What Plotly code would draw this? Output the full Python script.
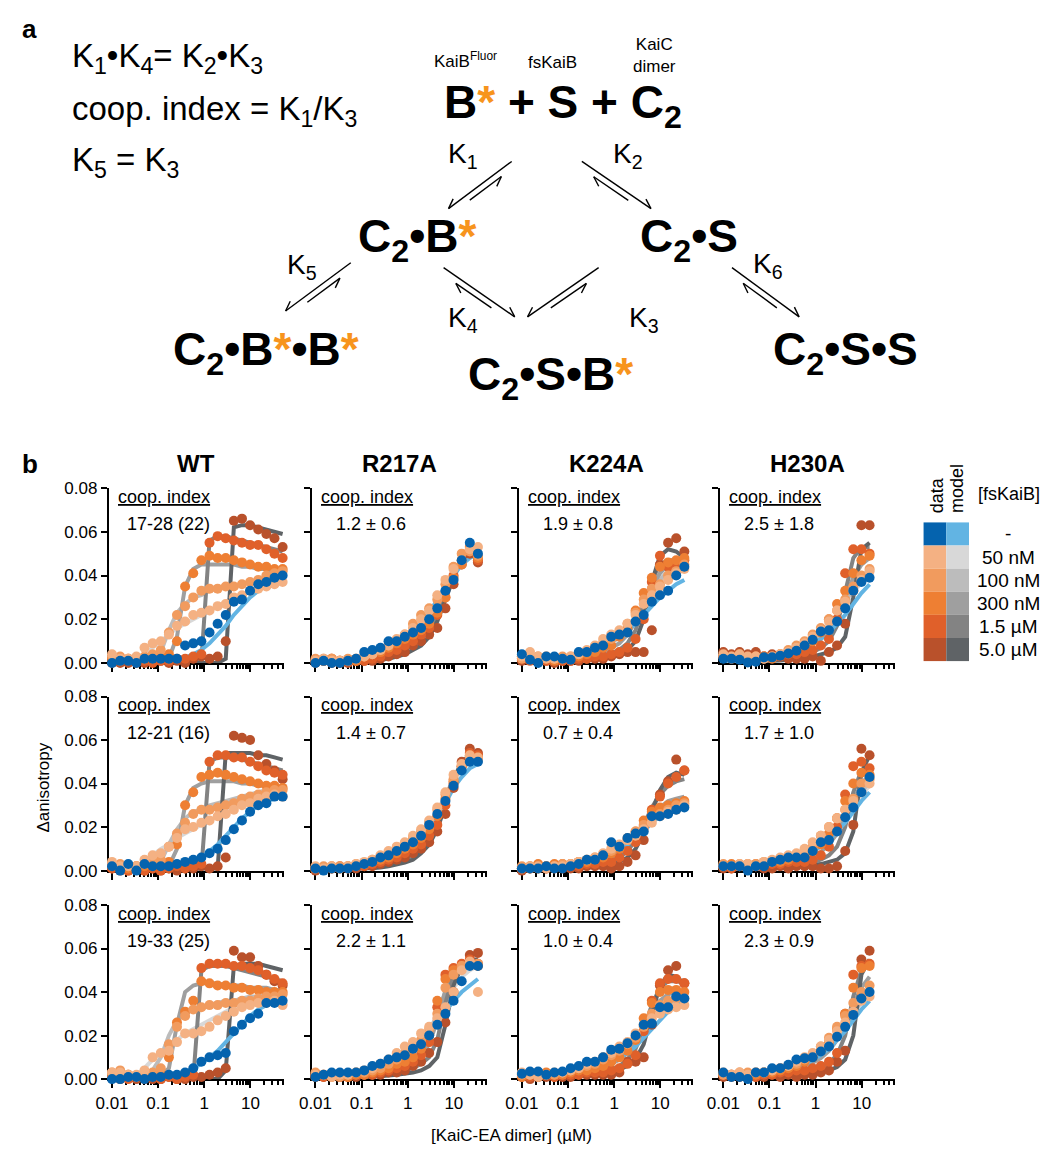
import math
import plotly.graph_objects as go

W, H = 1048, 1155
FONT = "Liberation Sans, Arial, sans-serif"

# ---------------- x concentrations (µM) ----------------
X_WT = [0.01, 0.015, 0.0225, 0.0338, 0.0506, 0.0759, 0.114, 0.171, 0.256, 0.384, 0.577,
        0.865, 1.30, 1.95, 2.92, 4.38, 6.57, 9.85, 14.8, 22.2, 33.3, 50.0]
X_R217A = [0.01, 0.015, 0.0225, 0.0338, 0.0506, 0.0759, 0.114, 0.171, 0.256, 0.384, 0.577,
           0.865, 1.30, 1.95, 2.92, 4.38, 6.57, 9.85, 14.8, 22.2, 33.3]
X_K224A = [0.01, 0.015, 0.0225, 0.0338, 0.0506, 0.0759, 0.114, 0.171, 0.256, 0.384, 0.577,
           0.865, 1.30, 1.95, 2.92, 4.38, 6.57, 9.85, 14.8, 22.2, 33.3]
X_H230A = [0.01, 0.015, 0.0225, 0.0338, 0.0506, 0.0759, 0.114, 0.171, 0.256, 0.384, 0.577,
           0.865, 1.30, 1.95, 2.92, 4.38, 6.57, 9.85, 14.8]

# ---------------- WT ----------------
wt1_d0 = [.000,.001,.001,.000,.002,.002,.002,.002,.002,.008,.009,.010,.014,.018,.022,.028,.029,.033,.036,.037,.039,.040]
wt1_d1 = [.004,.002,.002,.003,.007,.009,.010,.013,.017,.019,.022,.023,.024,.026,.027,.030,.031,.033,.034,.035,.036,.037]
wt1_d2 = [.003,.003,.002,.002,.003,.004,.006,.014,.022,.026,.030,.033,.034,.034,.035,.035,.036,.037,.038,.040,.041,.042]
wt1_d3 = [.002,.001,.002,.001,.002,.002,.003,.004,.010,.035,.041,.047,.049,.048,.048,.047,.046,.045,.044,.044,.043,.043]
wt1_d4 = [.002,.001,.001,.000,.001,.000,.001,.001,.002,.002,.003,.004,.055,.058,.057,.056,.055,.054,.054,.052,.050,.048]
wt1_d5 = [.000,.000,.000,.001,.000,.002,.001,.000,.001,.000,.002,.003,.002,.003,.010,.065,.066,.063,.061,.059,.057,.053]
wt1_m0 = [0,0,0,0,0,.0003,.0005,.001,.0015,.0025,.004,.006,.009,.013,.017,.022,.026,.030,.033,.036,.038,.039]
wt1_m1 = [0,0,0,.001,.004,.007,.010,.013,.016,.018,.020,.022,.024,.026,.028,.030,.031,.033,.034,.035,.036,.037]
wt1_m2 = [0,0,0,0,0,.001,.005,.015,.023,.027,.030,.031,.033,.034,.035,.035,.036,.037,.038,.039,.040,.041]
wt1_m3 = [0,0,0,0,0,0,0,.002,.012,.035,.043,.045,.045,.045,.045,.045,.044,.044,.043,.043,.042,.042]
wt1_m4 = [0,0,0,0,0,0,0,0,0,0,0,.001,.056,.058,.058,.057,.056,.055,.054,.053,.052,.051]
wt1_m5 = [0,0,0,0,0,0,0,0,0,0,0,0,0,0,.002,.062,.063,.063,.062,.061,.060,.059]

wt2_d0 = [.002,.000,.003,.000,.003,.002,.002,.002,.003,.004,.005,.006,.008,.010,.014,.019,.023,.027,.030,.031,.034,.034]
wt2_d1 = [.004,.002,.002,.002,.005,.007,.008,.011,.015,.019,.020,.022,.023,.025,.026,.028,.030,.031,.033,.034,.035,.034]
wt2_d2 = [.003,.003,.002,.002,.003,.004,.005,.011,.017,.022,.026,.028,.028,.029,.030,.031,.033,.034,.035,.036,.037,.037]
wt2_d3 = [.002,.002,.001,.002,.002,.002,.003,.004,.012,.030,.036,.043,.044,.045,.044,.043,.042,.041,.040,.039,.039,.038]
wt2_d4 = [.001,.001,.000,.001,.000,.001,.000,.001,.002,.001,.002,.003,.050,.053,.053,.052,.052,.050,.048,.046,.045,.044]
wt2_d5 = [.001,.000,.000,.001,.000,.001,.000,.001,.000,.001,.001,.002,.001,.002,.006,.062,.061,.060,.053,.049,.046,.042]
wt2_m0 = [0,0,0,0,0,.0003,.0005,.001,.0015,.0025,.004,.006,.009,.012,.016,.020,.024,.027,.030,.032,.033,.034]
wt2_m1 = [0,0,0,.001,.004,.007,.010,.012,.015,.017,.019,.021,.023,.025,.027,.029,.031,.033,.034,.035,.036,.037]
wt2_m2 = [0,0,0,0,0,.001,.004,.012,.019,.024,.027,.028,.030,.031,.032,.033,.034,.035,.036,.037,.038,.038]
wt2_m3 = [0,0,0,0,0,0,0,.002,.010,.030,.038,.040,.041,.041,.041,.041,.040,.040,.039,.039,.038,.038]
wt2_m4 = [0,0,0,0,0,0,0,0,0,0,0,.001,.050,.052,.052,.052,.051,.050,.049,.048,.047,.046]
wt2_m5 = [0,0,0,0,0,0,0,0,0,0,0,0,0,.001,.054,.054,.054,.054,.053,.053,.052,.051]

wt3_d0 = [.000,.000,.001,.001,.000,.001,.001,.002,.002,.003,.005,.008,.010,.011,.012,.022,.025,.028,.030,.035,.035,.036]
wt3_d1 = [.003,.003,.002,.002,.004,.010,.012,.013,.017,.021,.021,.022,.024,.027,.029,.031,.033,.034,.035,.035,.036,.034]
wt3_d2 = [.003,.004,.002,.001,.002,.003,.005,.016,.024,.029,.032,.033,.034,.034,.035,.035,.036,.036,.037,.038,.038,.039]
wt3_d3 = [.002,.001,.002,.001,.002,.002,.003,.010,.026,.031,.036,.045,.044,.043,.043,.042,.042,.041,.041,.040,.040,.040]
wt3_d4 = [.001,.001,.000,.001,.000,.001,.000,.001,.000,.001,.002,.051,.053,.053,.053,.052,.052,.051,.050,.048,.046,.044]
wt3_d5 = [.001,.000,.001,.000,.001,.000,.000,.001,.000,.000,.001,.001,.002,.003,.005,.059,.056,.056,.052,.048,.045,.043]
wt3_m0 = [0,0,0,0,0,0,.0005,.001,.002,.003,.005,.007,.010,.013,.017,.021,.025,.029,.032,.034,.035,.036]
wt3_m1 = [0,0,0,.002,.005,.009,.012,.015,.018,.021,.023,.025,.027,.029,.031,.033,.034,.035,.036,.037,.038,.038]
wt3_m2 = [0,0,0,0,.001,.004,.010,.020,.027,.030,.032,.033,.034,.035,.036,.036,.037,.038,.038,.039,.039,.040]
wt3_m3 = [0,0,0,0,0,0,.001,.005,.025,.040,.043,.044,.044,.044,.043,.043,.043,.042,.042,.042,.041,.041]
wt3_m4 = [0,0,0,0,0,0,0,0,0,0,0,.050,.052,.052,.052,.051,.050,.049,.048,.047,.046,.045]
wt3_m5 = [0,0,0,0,0,0,0,0,0,0,0,0,0,0,.004,.052,.053,.053,.053,.052,.051,.050]

# ---------------- R217A ----------------
r1_d0 = [.000,.001,.000,.000,.001,.002,.005,.006,.007,.010,.010,.012,.014,.016,.020,.025,.033,.038,.047,.055,.050]
r1_d1 = [.001,.002,.001,.001,.001,.002,.003,.004,.006,.008,.011,.013,.016,.020,.024,.031,.038,.043,.047,.052,.053]
r1_d2 = [.002,.001,.002,.001,.002,.002,.003,.004,.006,.008,.010,.013,.018,.022,.025,.029,.036,.044,.050,.051,.049]
r1_d3 = [.001,.002,.002,.001,.001,.001,.003,.004,.005,.007,.009,.011,.013,.015,.018,.023,.030,.039,.045,.053,.048]
r1_d4 = [.001,.001,.002,.000,.001,.001,.001,.002,.003,.005,.006,.008,.010,.013,.016,.022,.030,.040,.047,.052,.047]
r1_d5 = [.000,.001,.000,.001,.000,.001,.001,.001,.002,.003,.004,.005,.008,.010,.013,.016,.025,.036,.045,.050,.046]
r1_m0 = [0,.0002,.0005,.001,.0015,.002,.003,.004,.005,.007,.009,.011,.014,.018,.023,.029,.035,.040,.045,.048,.050]
r1_m1 = [0,.0002,.0004,.0008,.001,.0015,.002,.003,.004,.006,.008,.010,.013,.017,.022,.028,.035,.041,.046,.050,.052]
r1_m2 = [0,0,.0003,.0006,.001,.0013,.002,.0027,.0037,.005,.007,.009,.012,.016,.021,.027,.034,.041,.046,.050,.052]
r1_m3 = [0,0,.0002,.0005,.0008,.001,.0015,.002,.003,.004,.005,.007,.010,.013,.018,.025,.033,.040,.046,.050,.052]
r1_m4 = [0,0,0,.0003,.0005,.0008,.001,.0015,.002,.003,.004,.006,.008,.011,.015,.022,.031,.040,.047,.051,.053]
r1_m5 = [0,0,0,.0002,.0004,.0006,.0008,.001,.0015,.002,.003,.004,.006,.008,.012,.019,.029,.039,.047,.051,.053]

r2_d0 = [.001,.000,.001,.001,.001,.002,.003,.004,.006,.007,.009,.011,.013,.016,.021,.026,.032,.039,.046,.050,.050]
r2_d1 = [.002,.001,.002,.001,.002,.003,.004,.005,.007,.009,.011,.013,.016,.019,.023,.029,.036,.044,.049,.053,.052]
r2_d2 = [.001,.002,.001,.002,.002,.003,.003,.005,.006,.008,.010,.012,.015,.018,.022,.028,.035,.042,.048,.052,.051]
r2_d3 = [.001,.001,.002,.001,.002,.002,.003,.004,.005,.006,.008,.010,.012,.015,.019,.025,.033,.041,.048,.053,.052]
r2_d4 = [.001,.001,.001,.002,.001,.002,.002,.003,.004,.005,.006,.008,.010,.012,.016,.021,.030,.040,.048,.054,.053]
r2_d5 = [.000,.001,.001,.001,.001,.001,.002,.002,.003,.004,.005,.006,.008,.010,.013,.018,.026,.038,.050,.056,.054]
r2_m0 = [0,.0002,.0004,.0007,.001,.0015,.002,.003,.004,.005,.007,.009,.012,.015,.020,.025,.031,.038,.043,.047,.049]
r2_m1 = [0,.0002,.0004,.0007,.001,.0014,.002,.003,.004,.005,.007,.009,.012,.016,.021,.027,.034,.041,.046,.050,.051]
r2_m2 = [0,.0002,.0003,.0006,.0009,.0012,.0017,.0024,.0033,.0045,.006,.008,.011,.015,.020,.027,.035,.042,.047,.050,.052]
r2_m3 = [0,0,.0002,.0004,.0007,.001,.0014,.002,.0027,.0037,.005,.007,.009,.013,.018,.025,.034,.042,.048,.051,.053]
r2_m4 = [0,0,0,.0003,.0005,.0007,.001,.0014,.002,.0027,.0037,.005,.007,.010,.015,.022,.032,.042,.049,.052,.054]
r2_m5 = [0,0,0,.0002,.0003,.0005,.0007,.001,.0014,.002,.0027,.0037,.005,.008,.012,.019,.030,.042,.050,.053,.055]

r3_d0 = [.001,.002,.003,.003,.003,.003,.004,.006,.007,.009,.010,.011,.014,.016,.020,.025,.030,.036,.045,.052,.052]
r3_d1 = [.002,.002,.001,.002,.002,.003,.004,.005,.007,.009,.012,.015,.017,.021,.024,.028,.033,.040,.050,.054,.040]
r3_d2 = [.003,.002,.002,.001,.002,.003,.003,.004,.005,.007,.009,.012,.014,.018,.023,.030,.042,.048,.052,.053,.053]
r3_d3 = [.001,.002,.001,.002,.001,.002,.002,.003,.004,.005,.007,.008,.010,.014,.020,.036,.046,.050,.052,.053,.052]
r3_d4 = [.002,.001,.002,.001,.001,.002,.002,.002,.003,.004,.005,.006,.008,.011,.017,.033,.048,.051,.053,.055,.053]
r3_d5 = [.001,.001,.002,.001,.001,.001,.002,.002,.002,.003,.003,.004,.006,.008,.012,.017,.026,.040,.052,.057,.058]
r3_m0 = [.0005,.001,.0015,.002,.0025,.003,.004,.005,.006,.008,.010,.012,.015,.018,.022,.026,.031,.036,.040,.043,.046]
r3_m1 = [.0002,.0005,.001,.0015,.002,.0025,.003,.004,.005,.007,.009,.011,.014,.018,.023,.029,.036,.042,.047,.050,.052]
r3_m2 = [0,.0003,.0006,.001,.0013,.0017,.002,.003,.004,.005,.007,.009,.011,.015,.021,.030,.040,.047,.051,.052,.053]
r3_m3 = [0,.0002,.0004,.0007,.001,.0013,.0017,.002,.003,.004,.005,.006,.008,.011,.016,.027,.041,.049,.052,.053,.053]
r3_m4 = [0,0,.0002,.0004,.0006,.0008,.001,.0013,.0017,.002,.003,.004,.005,.007,.010,.018,.035,.048,.053,.054,.054]
r3_m5 = [0,0,0,.0002,.0003,.0005,.0007,.001,.0013,.0017,.002,.0025,.003,.004,.006,.010,.025,.043,.052,.055,.055]

# ---------------- K224A ----------------
k1_d0 = [.004,.0015,.000,.003,.003,.002,.0015,.005,.005,.007,.008,.012,.013,.014,.019,.022,.028,.031,.033,.040,.044]
k1_d1 = [.003,.005,.003,.002,.002,.002,.003,.004,.006,.008,.011,.013,.015,.018,.022,.027,.031,.035,.038,.041,.043]
k1_d2 = [.002,.003,.002,.003,.002,.003,.003,.004,.005,.007,.009,.011,.014,.018,.023,.029,.034,.036,.040,.042,.045]
k1_d3 = [.003,.002,.003,.002,.001,.002,.002,.003,.004,.005,.007,.008,.012,.016,.024,.032,.039,.044,.046,.047,.048]
k1_d4 = [.002,.001,.002,.001,.002,.001,.001,.002,.002,.003,.003,.004,.005,.007,.011,.020,.037,.049,.044,.045,.047]
k1_d5 = [.001,.002,.001,.001,.000,.001,.001,.001,.002,.002,.002,.003,.004,.005,.005,.005,.015,.045,.055,.057,.051]
k1_m0 = [.0005,.001,.0013,.0017,.002,.0025,.003,.004,.005,.006,.008,.010,.012,.015,.018,.022,.026,.030,.033,.036,.038]
k1_m1 = [.001,.0013,.0017,.002,.0025,.003,.0035,.0045,.0055,.007,.009,.011,.014,.017,.021,.026,.031,.036,.040,.043,.045]
k1_m2 = [.0005,.0008,.001,.0013,.0017,.002,.0025,.003,.004,.005,.007,.009,.012,.016,.021,.027,.033,.038,.042,.044,.046]
k1_m3 = [.0003,.0005,.0007,.001,.0013,.0016,.002,.0025,.003,.004,.005,.007,.009,.013,.019,.027,.035,.041,.045,.047,.047]
k1_m4 = [0,.0002,.0004,.0006,.0008,.001,.0013,.0017,.002,.0027,.0035,.0045,.006,.009,.015,.026,.038,.045,.047,.047,.047]
k1_m5 = [0,0,.0002,.0003,.0005,.0007,.001,.0013,.0017,.002,.0027,.0035,.0045,.006,.010,.020,.037,.049,.052,.051,.048]

k2_d0 = [.001,.001,.001,.002,.001,.001,.002,.003,.005,.005,.007,.013,.011,.015,.017,.018,.025,.025,.026,.028,.029]
k2_d1 = [.001,.002,.002,.001,.002,.002,.003,.004,.005,.006,.008,.010,.012,.014,.016,.019,.022,.025,.027,.028,.030]
k2_d2 = [.002,.001,.001,.002,.002,.003,.003,.004,.005,.006,.007,.009,.011,.015,.018,.021,.024,.026,.028,.030,.031]
k2_d3 = [.001,.002,.003,.002,.003,.003,.003,.004,.004,.005,.006,.008,.010,.014,.018,.023,.027,.029,.030,.031,.032]
k2_d4 = [.001,.001,.002,.001,.002,.002,.002,.002,.003,.003,.004,.004,.006,.009,.013,.020,.028,.034,.040,.043,.046]
k2_d5 = [.000,.001,.001,.001,.001,.001,.001,.001,.002,.002,.002,.001,.002,.004,.007,.014,.025,.035,.041,.051,.046]
k2_m0 = [.0005,.0008,.001,.0013,.0016,.002,.0025,.003,.004,.005,.006,.008,.010,.012,.015,.018,.022,.025,.028,.031,.032]
k2_m1 = [.0005,.0008,.001,.0013,.0016,.002,.0025,.003,.004,.005,.006,.008,.010,.013,.016,.019,.023,.026,.029,.031,.033]
k2_m2 = [.0003,.0005,.0007,.001,.0013,.0016,.002,.0025,.003,.004,.005,.007,.009,.012,.015,.019,.023,.027,.030,.032,.033]
k2_m3 = [.0002,.0003,.0005,.0007,.001,.0013,.0016,.002,.0025,.003,.004,.006,.008,.011,.015,.020,.025,.029,.032,.033,.034]
k2_m4 = [0,.0002,.0003,.0005,.0007,.0009,.0011,.0014,.0018,.0023,.003,.004,.006,.009,.014,.021,.029,.035,.039,.041,.042]
k2_m5 = [0,0,.0002,.0003,.0005,.0007,.0009,.0011,.0014,.0018,.0023,.003,.004,.006,.010,.017,.027,.037,.043,.045,.044]

k3_d0 = [.0025,.0035,.0035,.002,.003,.0035,.005,.006,.008,.008,.010,.0135,.014,.0165,.020,.025,.0255,.033,.033,.038,.037]
k3_d1 = [.003,.002,.001,.002,.003,.003,.004,.005,.007,.008,.010,.012,.015,.017,.021,.025,.028,.030,.032,.033,.034]
k3_d2 = [.002,.002,.003,.002,.002,.003,.004,.005,.006,.007,.009,.011,.013,.016,.019,.024,.030,.034,.036,.037,.037]
k3_d3 = [.001,.002,.002,.003,.002,.002,.003,.004,.004,.005,.006,.008,.010,.013,.018,.028,.035,.040,.041,.041,.040]
k3_d4 = [.002,.001,.001,.002,.001,.002,.002,.002,.003,.003,.003,.004,.005,.007,.011,.022,.036,.044,.046,.046,.044]
k3_d5 = [.001,.000,.001,.001,.001,.001,.001,.002,.002,.002,.002,.002,.003,.008,.008,.010,.025,.043,.050,.052,.044]
k3_m0 = [.0005,.0008,.001,.0013,.0016,.002,.0025,.003,.004,.005,.006,.008,.010,.012,.015,.019,.023,.027,.031,.034,.035]
k3_m1 = [.001,.0013,.0016,.002,.0025,.003,.0035,.0045,.0055,.007,.009,.011,.013,.016,.020,.024,.028,.031,.034,.035,.036]
k3_m2 = [.0005,.0008,.001,.0013,.0017,.002,.0025,.003,.004,.005,.006,.008,.011,.014,.018,.023,.028,.032,.035,.036,.037]
k3_m3 = [.0003,.0005,.0007,.001,.0013,.0016,.002,.0025,.003,.004,.005,.007,.009,.012,.017,.024,.031,.036,.039,.040,.040]
k3_m4 = [0,.0002,.0004,.0006,.0008,.001,.0013,.0017,.002,.0027,.0035,.0045,.006,.009,.014,.023,.034,.042,.045,.045,.044]
k3_m5 = [0,0,.0002,.0003,.0005,.0007,.001,.0013,.0017,.002,.0027,.0035,.0045,.006,.009,.016,.030,.043,.048,.047,.044]

# ---------------- H230A ----------------
h1_d0 = [.002,.002,.0015,.0003,.0006,.0026,.0026,.0033,.0044,.0056,.008,.0106,.0144,.015,.019,.025,.033,.037,.039]
h1_d1 = [.004,.003,.004,.003,.003,.002,.003,.004,.005,.007,.009,.012,.015,.019,.024,.028,.033,.038,.042]
h1_d2 = [.003,.002,.003,.002,.003,.002,.003,.004,.006,.008,.010,.013,.016,.020,.024,.029,.035,.040,.043]
h1_d3 = [.003,.003,.004,.002,.003,.003,.002,.004,.005,.006,.008,.010,.014,.020,.027,.033,.041,.047,.049]
h1_d4 = [.003,.002,.003,.003,.002,.003,.003,.003,.004,.004,.005,.006,.008,.011,.020,.041,.052,.052,.050]
h1_d5 = [.005,.004,.005,.004,.005,.003,.004,.003,.002,.002,.002,.003,.001,.005,.008,.018,.033,.063,.063]
h1_m0 = [.0005,.0007,.001,.0013,.0016,.002,.0025,.003,.004,.005,.007,.009,.011,.014,.018,.022,.027,.032,.036]
h1_m1 = [.001,.0013,.0016,.002,.0025,.003,.0035,.0045,.0055,.007,.009,.011,.014,.018,.022,.027,.032,.037,.041]
h1_m2 = [.0008,.001,.0013,.0016,.002,.0025,.003,.0037,.0046,.006,.008,.010,.013,.017,.022,.028,.034,.039,.043]
h1_m3 = [.0005,.0007,.0009,.0012,.0015,.0019,.0024,.003,.0038,.005,.0065,.0085,.011,.015,.021,.030,.039,.045,.048]
h1_m4 = [.0003,.0004,.0005,.0007,.0009,.0011,.0014,.0018,.0023,.003,.004,.005,.007,.010,.017,.033,.048,.053,.053]
h1_m5 = [.0002,.0003,.0004,.0005,.0006,.0008,.001,.0012,.0015,.002,.0025,.003,.004,.005,.007,.012,.030,.052,.055]

h2_d0 = [.002,.002,.002,.000,.002,.002,.004,.005,.006,.006,.006,.009,.013,.014,.018,.0245,.029,.036,.043]
h2_d1 = [.002,.002,.003,.003,.002,.004,.005,.006,.007,.008,.010,.013,.016,.020,.024,.028,.032,.036,.040]
h2_d2 = [.003,.002,.003,.002,.003,.004,.004,.005,.006,.007,.009,.011,.016,.020,.024,.028,.033,.040,.042]
h2_d3 = [.002,.003,.002,.003,.003,.003,.004,.004,.005,.006,.007,.009,.012,.017,.024,.032,.040,.045,.044]
h2_d4 = [.002,.001,.002,.002,.002,.003,.003,.003,.004,.004,.004,.005,.007,.011,.020,.035,.048,.050,.047]
h2_d5 = [.001,.001,.002,.001,.002,.001,.001,.002,.001,.002,.002,.002,.001,.001,.002,.009,.021,.056,.053]
h2_m0 = [.0005,.0007,.001,.0013,.0016,.002,.0025,.003,.004,.005,.0065,.0085,.011,.014,.018,.022,.027,.032,.036]
h2_m1 = [.001,.0012,.0015,.0019,.0024,.003,.0037,.0046,.0057,.007,.009,.011,.014,.017,.021,.025,.030,.035,.039]
h2_m2 = [.0007,.0009,.0012,.0015,.0019,.0024,.003,.0037,.0046,.0058,.0073,.009,.012,.015,.019,.024,.030,.036,.041]
h2_m3 = [.0004,.0006,.0008,.001,.0013,.0016,.002,.0025,.0031,.004,.005,.0065,.0085,.012,.017,.024,.032,.040,.044]
h2_m4 = [.0002,.0003,.0004,.0006,.0008,.001,.0012,.0015,.0019,.0025,.003,.004,.005,.007,.011,.020,.036,.046,.047]
h2_m5 = [.0001,.0002,.0003,.0004,.0005,.0006,.0008,.001,.0012,.0015,.002,.0025,.003,.004,.005,.008,.018,.045,.053]

h3_d0 = [.003,.001,.001,.000,.003,.003,.005,.005,.0066,.009,.0096,.010,.0127,.015,.0195,.024,.0295,.037,.040]
h3_d1 = [.003,.002,.003,.002,.003,.003,.004,.005,.006,.008,.010,.012,.015,.018,.022,.026,.031,.036,.038]
h3_d2 = [.002,.002,.002,.003,.003,.003,.004,.005,.006,.007,.009,.011,.015,.019,.024,.029,.035,.040,.043]
h3_d3 = [.002,.002,.003,.002,.002,.003,.003,.004,.005,.006,.008,.010,.013,.017,.023,.030,.042,.051,.052]
h3_d4 = [.002,.001,.002,.002,.001,.002,.002,.003,.003,.004,.004,.005,.006,.008,.012,.030,.048,.052,.053]
h3_d5 = [.001,.002,.001,.002,.001,.001,.002,.001,.002,.001,.002,.002,.003,.004,.008,.013,.030,.055,.059]
h3_m0 = [.0005,.0007,.001,.0013,.0016,.002,.0025,.003,.004,.005,.0065,.0085,.011,.014,.018,.022,.027,.032,.036]
h3_m1 = [.001,.0013,.0016,.002,.0025,.003,.0037,.0046,.0057,.007,.009,.011,.014,.017,.021,.025,.030,.035,.038]
h3_m2 = [.0008,.001,.0013,.0016,.002,.0025,.0031,.0039,.0049,.006,.0077,.0097,.012,.015,.019,.024,.030,.036,.041]
h3_m3 = [.0005,.0007,.0009,.0012,.0015,.0019,.0024,.003,.0038,.0048,.006,.0076,.0097,.013,.018,.025,.034,.042,.047]
h3_m4 = [.0002,.0003,.0004,.0006,.0008,.001,.0013,.0016,.002,.0026,.0033,.0042,.0055,.0075,.011,.020,.038,.050,.053]
h3_m5 = [.0001,.0002,.0003,.0004,.0005,.0006,.0008,.001,.0012,.0015,.002,.0025,.003,.004,.0055,.009,.020,.048,.055]

# ---------------- labels / styles ----------------
MUTANTS = ["WT", "R217A", "K224A", "H230A"]
COOP_TEXT = [["17-28 (22)", "1.2 ± 0.6", "1.9 ± 0.8", "2.5 ± 1.8"],
             ["12-21 (16)", "1.4 ± 0.7", "0.7 ± 0.4", "1.7 ± 1.0"],
             ["19-33 (25)", "2.2 ± 1.1", "1.0 ± 0.4", "2.3 ± 0.9"]]
CONC_LABELS = ["-", "50 nM", "100 nM", "300 nM", "1.5 µM", "5.0 µM"]
D_COLORS = ["#0563ae", "#f4b183", "#f19b5e", "#ee7f33", "#e0602a", "#b9512b"]
M_COLORS = ["#62b4e3", "#d8d8d8", "#bcbcbc", "#9f9f9f", "#838383", "#5f6366"]
XTICKS = [0.01, 0.1, 1, 10]
XTICK_TEXT = ["0.01", "0.1", "1", "10"]
XMINOR = [0.02, 0.03, 0.04, 0.05, 0.06, 0.07, 0.08, 0.09, 0.2, 0.3, 0.4, 0.5, 0.6, 0.7, 0.8, 0.9,
          2, 3, 4, 5, 6, 7, 8, 9, 20, 30, 40, 50]
YTICKS = [0, 0.02, 0.04, 0.06, 0.08]

X_BY_COL = [X_WT, X_R217A, X_K224A, X_H230A]
PANELS = {
    (0, 0): ([wt1_d0, wt1_d1, wt1_d2, wt1_d3, wt1_d4, wt1_d5], [wt1_m0, wt1_m1, wt1_m2, wt1_m3, wt1_m4, wt1_m5]),
    (1, 0): ([wt2_d0, wt2_d1, wt2_d2, wt2_d3, wt2_d4, wt2_d5], [wt2_m0, wt2_m1, wt2_m2, wt2_m3, wt2_m4, wt2_m5]),
    (2, 0): ([wt3_d0, wt3_d1, wt3_d2, wt3_d3, wt3_d4, wt3_d5], [wt3_m0, wt3_m1, wt3_m2, wt3_m3, wt3_m4, wt3_m5]),
    (0, 1): ([r1_d0, r1_d1, r1_d2, r1_d3, r1_d4, r1_d5], [r1_m0, r1_m1, r1_m2, r1_m3, r1_m4, r1_m5]),
    (1, 1): ([r2_d0, r2_d1, r2_d2, r2_d3, r2_d4, r2_d5], [r2_m0, r2_m1, r2_m2, r2_m3, r2_m4, r2_m5]),
    (2, 1): ([r3_d0, r3_d1, r3_d2, r3_d3, r3_d4, r3_d5], [r3_m0, r3_m1, r3_m2, r3_m3, r3_m4, r3_m5]),
    (0, 2): ([k1_d0, k1_d1, k1_d2, k1_d3, k1_d4, k1_d5], [k1_m0, k1_m1, k1_m2, k1_m3, k1_m4, k1_m5]),
    (1, 2): ([k2_d0, k2_d1, k2_d2, k2_d3, k2_d4, k2_d5], [k2_m0, k2_m1, k2_m2, k2_m3, k2_m4, k2_m5]),
    (2, 2): ([k3_d0, k3_d1, k3_d2, k3_d3, k3_d4, k3_d5], [k3_m0, k3_m1, k3_m2, k3_m3, k3_m4, k3_m5]),
    (0, 3): ([h1_d0, h1_d1, h1_d2, h1_d3, h1_d4, h1_d5], [h1_m0, h1_m1, h1_m2, h1_m3, h1_m4, h1_m5]),
    (1, 3): ([h2_d0, h2_d1, h2_d2, h2_d3, h2_d4, h2_d5], [h2_m0, h2_m1, h2_m2, h2_m3, h2_m4, h2_m5]),
    (2, 3): ([h3_d0, h3_d1, h3_d2, h3_d3, h3_d4, h3_d5], [h3_m0, h3_m1, h3_m2, h3_m3, h3_m4, h3_m5]),
}

# ---------------- layout geometry (pixels) ----------------
COL_PX = [(97, 274), (303, 480), (512, 689), (716, 893)]
ROW_PX = [(487, 665), (699, 876), (911, 1088)]

fig = go.Figure()
layout = dict(width=W, height=H, margin=dict(l=0, r=0, t=0, b=0),
              paper_bgcolor="white", plot_bgcolor="white", showlegend=False,
              font=dict(family=FONT, color="black"))

for r in range(3):
    for c in range(4):
        k = r * 4 + c + 1
        xs = X_BY_COL[c]
        data, model = PANELS[(r, c)]
        xname, yname = f"x{k}", f"y{k}"
        for i in [1, 2, 3, 4, 5, 0]:
            fig.add_trace(go.Scatter(x=xs, y=model[i], mode="lines", xaxis=xname, yaxis=yname,
                                     line=dict(color=M_COLORS[i], width=4), hoverinfo="skip",
                                     cliponaxis=False))
        for i in [5, 4, 3, 2, 1, 0]:
            fig.add_trace(go.Scatter(x=xs, y=data[i], mode="markers", xaxis=xname, yaxis=yname,
                                     marker=dict(color=D_COLORS[i], size=10, line=dict(width=0)),
                                     cliponaxis=False))
        x0, x1 = COL_PX[c]
        y0, y1 = ROW_PX[r]
        xkey = "xaxis" if k == 1 else f"xaxis{k}"
        ykey = "yaxis" if k == 1 else f"yaxis{k}"
        layout[xkey] = dict(domain=[x0 / W, x1 / W], anchor=yname, type="log", range=[-2.07, 1.72],
                            showline=True, linecolor="black", linewidth=2, mirror=False,
                            showgrid=False, zeroline=False, ticks="outside", ticklen=7, tickwidth=2,
                            tickcolor="black", tickmode="array", tickvals=XTICKS, ticktext=XTICK_TEXT,
                            showticklabels=(r == 2), tickfont=dict(size=17, family=FONT),
                            minor=dict(tickmode="array", tickvals=XMINOR, ticks="outside", ticklen=4,
                                       tickwidth=1.5, tickcolor="black", showgrid=False),
                            layer="below traces")
        layout[ykey] = dict(domain=[1 - y1 / H, 1 - y0 / H], anchor=xname, range=[0, 0.08],
                            showline=True, linecolor="black", linewidth=2, showgrid=False,
                            zeroline=False, ticks="outside", ticklen=6, tickwidth=2, tickcolor="black",
                            tickmode="array", tickvals=YTICKS, tickformat=".2f",
                            showticklabels=(c == 0), tickfont=dict(size=17, family=FONT),
                            layer="below traces")

fig.update_layout(**layout)


def txt(x, y, s, size, color="black", xanchor="center", yanchor="middle", angle=0):
    fig.add_annotation(x=x / W, y=1 - y / H, xref="paper", yref="paper", text=s, showarrow=False,
                       font=dict(size=size, color=color, family=FONT), xanchor=xanchor,
                       yanchor=yanchor, textangle=angle)


def seg(xa, ya, xb, yb, w=1.4):
    fig.add_shape(type="line", xref="paper", yref="paper", x0=xa / W, y0=1 - ya / H,
                  x1=xb / W, y1=1 - yb / H, line=dict(color="black", width=w))


def eq_pair(A, B, side, off=6, barb=11, ang=28):
    ax, ay = A
    bx, by = B
    L = math.hypot(bx - ax, by - ay)
    ux, uy = (bx - ax) / L, (by - ay) / L
    nx, ny = -uy, ux
    if nx * side[0] + ny * side[1] < 0:
        nx, ny = -nx, -ny
    ca, sa = math.cos(math.radians(ang)), math.sin(math.radians(ang))
    seg(ax, ay, bx, by)
    seg(bx, by, bx - ux * barb * ca - nx * barb * sa, by - uy * barb * ca - ny * barb * sa)
    tx, ty = ax + ux * L * 0.72 + nx * off, ay + uy * L * 0.72 + ny * off
    px_, py_ = ax + ux * L * 0.22 + nx * off, ay + uy * L * 0.22 + ny * off
    seg(tx, ty, px_, py_)
    seg(px_, py_, px_ + ux * barb * ca + nx * barb * sa, py_ + uy * barb * ca + ny * barb * sa)


# ---------------- panel a ----------------
STAR = '<span style="color:#f7941d">*</span>'
txt(17, 20, "<b>a</b>", 26)
txt(58, 50, "K<sub>1</sub>•K<sub>4</sub>= K<sub>2</sub>•K<sub>3</sub>", 33, xanchor="left")
txt(58, 104, "coop. index = K<sub>1</sub>/K<sub>3</sub>", 33, xanchor="left")
txt(58, 156, "K<sub>5</sub> = K<sub>3</sub>", 33, xanchor="left")

txt(458, 52, "KaiB<sup>Fluor</sup>", 17)
txt(546, 54, "fsKaiB", 17)
txt(650, 47, "KaiC<br>dimer", 17)
txt(557, 98, "<b>B" + STAR + " + S + C<sub>2</sub></b>", 46)
txt(409, 234, "<b>C<sub>2</sub>•B" + STAR + "</b>", 46)
txt(684, 234, "<b>C<sub>2</sub>•S</b>", 46)
txt(256, 349, "<b>C<sub>2</sub>•B" + STAR + "•B" + STAR + "</b>", 46)
txt(544, 375, "<b>C<sub>2</sub>•S•B" + STAR + "</b>", 46)
txt(843, 349, "<b>C<sub>2</sub>•S•S</b>", 46)

txt(456, 149, "K<sub>1</sub>", 28)
txt(623, 149, "K<sub>2</sub>", 28)
txt(293, 262, "K<sub>5</sub>", 28)
txt(764, 261, "K<sub>6</sub>", 28)
txt(456, 316, "K<sub>4</sub>", 28)
txt(639, 316, "K<sub>3</sub>", 28)

eq_pair((505, 155), (441, 203), (1, 1))
eq_pair((576, 155), (646, 203), (-1, 1))
eq_pair((342, 258), (276, 307), (1, 1))
eq_pair((436, 263), (508, 313), (-1, 1))
eq_pair((593, 263), (521, 313), (1, 1))
eq_pair((728, 263), (796, 313), (-1, 1))

# ---------------- panel b ----------------
txt(17, 463, "<b>b</b>", 26)
for c in range(4):
    txt((COL_PX[c][0] + COL_PX[c][1]) / 2, 462, "<b>" + MUTANTS[c] + "</b>", 24)
for r in range(3):
    for c in range(4):
        left, top = COL_PX[c][0], ROW_PX[r][0]
        txt(left + 7, top + 9, "<u>coop. index</u>", 18, xanchor="left")
        txt(left + 60, top + 37, COOP_TEXT[r][c], 18)

txt(31, 792, "Δanisotropy", 17, angle=-90)
txt(505, 1145, "[KaiC-EA dimer] (µM)", 17)

# legend blocks
for i in range(6):
    ya = 522 + 23.5 * i
    yb = ya + 23.5
    fig.add_shape(type="rect", xref="paper", yref="paper", x0=922 / W, x1=945 / W,
                  y0=1 - yb / H, y1=1 - ya / H, line=dict(width=0), fillcolor=D_COLORS[i])
    fig.add_shape(type="rect", xref="paper", yref="paper", x0=945 / W, x1=968 / W,
                  y0=1 - yb / H, y1=1 - ya / H, line=dict(width=0), fillcolor=M_COLORS[i])
    txt(1008, ya + 11.75, CONC_LABELS[i], 19)
txt(935, 494, "data", 18, angle=-90)
txt(956, 488, "model", 18, angle=-90)
txt(1009, 493, "[fsKaiB]", 18)

fig.write_html("out.html", config={"displayModeBar": False},
               post_script="document.body.style.margin='0px';document.body.style.overflow='hidden';")
